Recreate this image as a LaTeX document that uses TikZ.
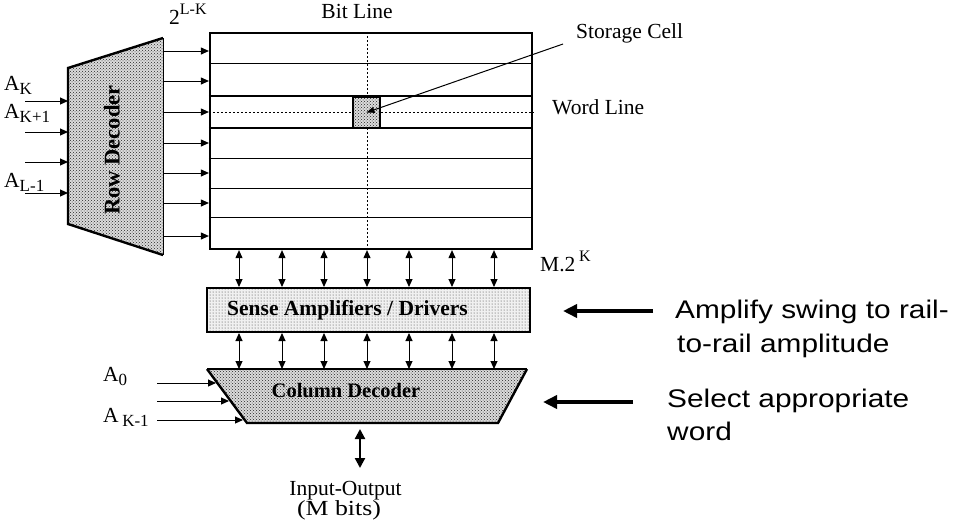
\documentclass[tikz,border=0pt]{standalone}
\usepackage{fontspec}
\setmainfont{Liberation Serif}
\newfontfamily\arialf{Liberation Sans}
\usetikzlibrary{arrows.meta,patterns}
\newcommand\mysubs[1]{\raisebox{-4pt}{\fontsize{17}{17}\selectfont #1}}
\newcommand\mysups[1]{\raisebox{9.5pt}{\fontsize{16}{16}\selectfont #1}}
\begin{document}
\begin{tikzpicture}[x=1pt,y=-1pt,
  lbl/.style={inner sep=0pt,font=\fontsize{21.5}{23}\selectfont},
  blbl/.style={inner sep=0pt,font=\fontsize{21.5}{23}\selectfont\bfseries},
  slbl/.style={inner sep=0pt,font=\fontsize{25.5}{30}\selectfont\arialf,xscale=1.17,anchor=base west},
  arr/.style={line width=1pt,-{Triangle[length=8pt,width=7pt]}},
  dbl/.style={line width=1pt,{Triangle[length=8pt,width=7pt]}-{Triangle[length=8pt,width=7pt]}},
  bigarr/.style={line width=3.6pt,-{Triangle[length=14pt,width=13pt]}},
  dense/.style={preaction={fill=black!14},pattern=crosshatch dots,pattern color=black!85},
  sparse/.style={preaction={fill=black!6},pattern=dots,pattern color=black!80},
  dashln/.style={line width=1pt,dash pattern=on 2pt off 2pt},
]
\useasboundingbox (0,0) rectangle (956,523);

% ---------- memory array ----------
\node[draw,line width=2.2pt,minimum width=322pt,minimum height=216pt,inner sep=0pt] (array) at (371,141) {};
\foreach \yy in {63,188,158,217} \draw[line width=1pt] (array.west |- 0,\yy) -- (array.east |- 0,\yy);
\foreach \yy in {96,128} \draw[line width=1.6pt] (array.west |- 0,\yy) -- (array.east |- 0,\yy);
\coordinate (blx) at (367,0);
\draw[dashln] (blx |- array.north) -- (blx |- array.south);
\draw[dashln] (array.west |- 0,112) -- (array.east |- 0,112);
\node[draw,line width=1.2pt,dense,minimum width=27pt,minimum height=31pt,inner sep=0pt] (cell) at (366.5,112.5) {};

% ---------- row decoder ----------
\coordinate (rdA) at (68,68);
\coordinate (rdB) at (163,38);
\coordinate (rdC) at (163,255);
\coordinate (rdD) at (68,224);
\path[dense] (rdA) -- (rdB) -- (rdC) -- (rdD) -- cycle;
\draw[line width=2.4pt,line join=miter] (rdC) -- (rdD) -- (rdA) -- (rdB);
\draw[line width=1pt] (rdB) -- (rdC);
\node[blbl,rotate=90,font=\fontsize{22.5}{24}\selectfont\bfseries] (rdtext) at (112,150) {Row Decoder};
\foreach \yy in {51,81,112,143,173,203,236}
  \draw[arr] (rdB |- 0,\yy) -- (array.west |- 0,\yy);
\foreach \yy in {101,132,162,193} {
  \coordinate (in\yy) at (25,\yy);
  \draw[arr] (in\yy) -- (rdA |- in\yy);
}

% ---------- sense amplifiers ----------
\node[draw,line width=2pt,sparse,minimum width=323pt,minimum height=44pt,inner sep=0pt] (sense) at (368.5,310) {};
\node[blbl] (sensetext) at (347.5,310) {Sense Amplifiers / Drivers};

% ---------- column decoder ----------
\coordinate (cdA) at (207,369);
\coordinate (cdB) at (527,369);
\coordinate (cdC) at (498,423);
\coordinate (cdD) at (247,423);
\path[dense] (cdA) -- (cdB) -- (cdC) -- (cdD) -- cycle;
\draw[line width=1.4pt] (cdA) -- (cdB);
\draw[line width=2.4pt,line join=miter] (cdB) -- (cdC) -- (cdD) -- (cdA);
\node[blbl,font=\fontsize{20.5}{22}\selectfont\bfseries] (cdtext) at (346,391) {Column Decoder};

\foreach \xx in {239,282,324,367,409,452,494} {
  \draw[dbl] (\xx,0 |- array.south) -- (\xx,0 |- sense.north);
  \draw[dbl] (\xx,0 |- sense.south) -- (\xx,0 |- cdA);
}

% column address inputs
\coordinate (ca0) at (157,383);
\coordinate (ca1) at (157,401);
\coordinate (ca2) at (157,420);
\draw[arr] (ca0) -- (216,383);
\draw[arr] (ca1) -- (229,401);
\draw[arr] (ca2) -- (243,420);

% I/O
\coordinate (iotop) at (360,429);
\coordinate (iobot) at (360,468);
\draw[line width=2.2pt,{Triangle[length=10pt,width=10pt]}-{Triangle[length=10pt,width=10pt]}] (iotop) -- (iobot);
\node[lbl,anchor=base] (io1) at (345.5,495) {Input-Output};
\node[lbl,anchor=base,xscale=1.2] (io2) at (339,515) {(M bits)};

% ---------- labels ----------
\node[lbl,anchor=base west] (lk) at (169,24) {2\mysups{L-K}};
\node[lbl,anchor=base] (bitline) at (357,18) {Bit Line};
\node[lbl,anchor=base west] (sc) at (576,38) {Storage Cell};
\node[lbl,anchor=base west] (wl) at (552,114) {Word Line};
\coordinate (sctail) at (563,44);
\draw[line width=1pt,-{Triangle[length=8pt,width=6pt]}] (sctail) -- (cell.center);
\node[lbl,anchor=base west] (mk) at (540,271) {M.2\,\mysups{K}};

\node[lbl,anchor=base west] (ak) at (4,90) {A\mysubs{K}};
\node[lbl,anchor=base west] (ak1) at (4,118) {A\mysubs{K+1}};
\node[lbl,anchor=base west] (al1) at (4,187) {A\mysubs{L-1}};
\node[lbl,anchor=base west] (a0) at (103,381) {A\mysubs{0}};
\node[lbl,anchor=base west] (akm1) at (103,422) {A\,\mysubs{K-1}};

% ---------- annotations ----------
\node[slbl] (amp1) at (675,318) {Amplify swing to rail-};
\node[slbl] (amp2) at (677,352) {to-rail amplitude};
\node[slbl] (sel1) at (667,407) {Select appropriate};
\node[slbl] (sel2) at (667,440) {word};
\coordinate (ampt) at (653,311);
\coordinate (ampe) at (563,311);
\coordinate (selt) at (633,402);
\coordinate (sele) at (543,402);
\draw[bigarr] (ampt) -- (ampe);
\draw[bigarr] (selt) -- (sele);
\end{tikzpicture}
\end{document}
